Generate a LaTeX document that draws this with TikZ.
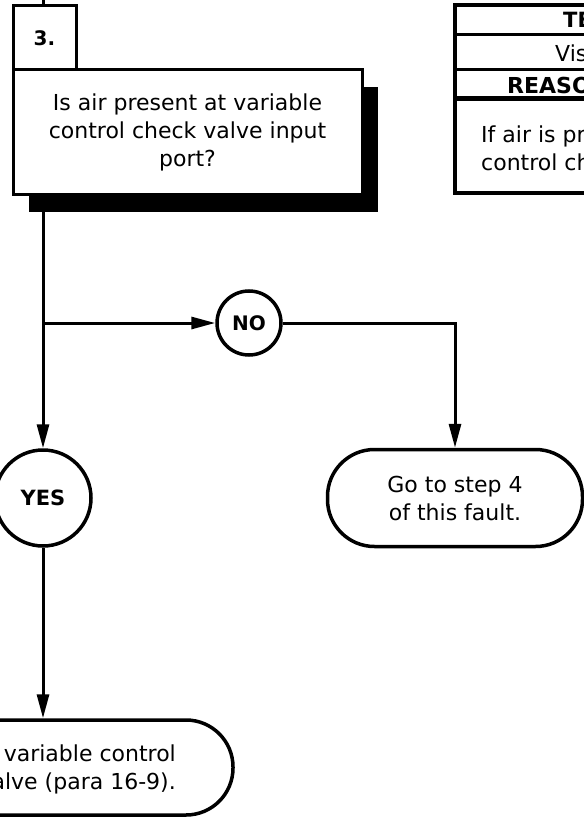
\documentclass[tikz,border=0pt]{standalone}
\usepackage{fontspec}
\setmainfont{DejaVu Sans}
\usepackage{tikz}
\usetikzlibrary{arrows.meta, positioning, calc, shadows}

\begin{document}
\begin{tikzpicture}[x=1pt, y=-1pt,
  line/.style={line width=3pt},
  flow/.style={line width=3pt, -{Triangle[length=24pt, width=12pt]}},
  txt/.style={font=\fontsize{22}{28}\selectfont, inner sep=0pt},
  hdr/.style={font=\fontsize{21}{24}\selectfont\bfseries, inner sep=0pt},
  stepbox/.style={draw, line width=3pt, outer sep=0pt, fill=white, align=center, font=\fontsize{22}{28}\selectfont},
  answer/.style={draw, circle, line width=3.5pt, fill=white, font=\fontsize{20}{24}\selectfont\bfseries},
  term/.style={draw, line width=3.5pt, rounded corners=47pt, align=center, font=\fontsize{22}{28}\selectfont}]
  \useasboundingbox (0,0) rectangle (583,818);

  \node[stepbox, minimum width=349pt, minimum height=125pt,
    drop shadow={shadow xshift=16pt, shadow yshift=-17pt, fill=black, opacity=1}]
    (quest) at (187.5,132.5) {Is air present at variable\\control check valve input\\port?};
  \node[stepbox, minimum width=63pt, minimum height=64pt, anchor=south west,
    font=\fontsize{20}{24}\selectfont\bfseries] (num) at (quest.north west) {3.};
  \coordinate (entry) at (43,0);
  \draw[line] (entry) -- (entry |- num.north);

  \node[answer, minimum size=64pt] (no) at (249,323) {NO};
  \node[answer, minimum size=96pt, font=\fontsize{21}{24}\selectfont\bfseries] (yes) at (43,498) {YES};
  \node[term, minimum width=255pt, minimum height=97pt] (goto) at (455,498) {Go to step 4\\of this fault.};
  \node[term, minimum width=380pt, minimum height=95pt] (repl) at (43,767.5) {};
  \node[txt, anchor=east, align=right] (repltxt) at (176,769) {variable control\\alve (para 16-9).};

  \coordinate (split) at (yes |- no);
  \draw[flow] (quest.south -| yes) -- (yes);
  \draw[flow] (split) -- (no);
  \draw[flow] (no) -- (no -| goto) -- (goto);
  \draw[flow] (yes) -- (repl);

  \draw[line width=4pt] (455,5) rectangle (640,193);
  \draw[line] (455,35) -- (640,35) (455,70) -- (640,70);
  \draw[line width=5pt] (455,99) -- (640,99);
  \node[hdr, anchor=west] (tblhead) at (563,20) {TE};
  \node[txt, anchor=west] (tblhow) at (555,53) {Vis};
  \node[hdr, anchor=west, font=\fontsize{22}{24}\selectfont\bfseries] (tblwhy) at (507,85) {REASO};
  \node[txt, anchor=west, align=left] (tblnote) at (481,148) {If air is pre\\control ch};
\end{tikzpicture}
\end{document}
